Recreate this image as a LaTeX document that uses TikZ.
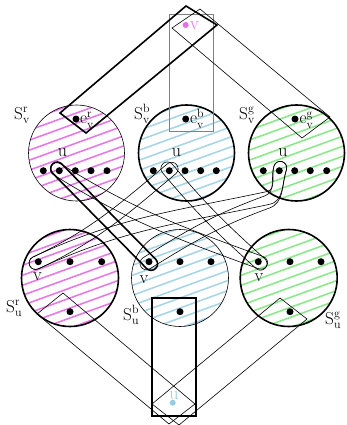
\documentclass[tikz,border=0pt]{standalone}
\usetikzlibrary{calc}
\definecolor{hr}{RGB}{232,122,232}
\definecolor{hb}{RGB}{168,214,230}
\definecolor{hg}{RGB}{140,232,140}
\definecolor{vcol}{RGB}{232,110,232}
\definecolor{ucol}{RGB}{150,205,228}
% sausage outline around P..Q
\newcommand\sausage[7]{%
  \pgfmathsetmacro\sA{#3}\pgfmathsetmacro\sB{#4}%
  \pgfmathsetmacro\sAl{#3+90}\pgfmathsetmacro\sAr{#3-90}\pgfmathsetmacro\sAb{#3+180}\pgfmathsetmacro\sAe{#3-270}%
  \pgfmathsetmacro\sBl{#4+90}\pgfmathsetmacro\sBr{#4-90}\pgfmathsetmacro\sBb{#4+180}%
  \coordinate (sP) at ($(#1)+(\sAb:#6)$);
  \coordinate (sQ) at ($(#2)+(\sB:#6)$);
  \draw[#7] ($(sP)+(\sAl:#5)$) to[out=\sA,in=\sBb] ($(sQ)+(\sBl:#5)$)
    arc[start angle=\sBl,end angle=\sBr,radius=#5]
    to[out=\sBb,in=\sA] ($(sP)+(\sAr:#5)$)
    arc[start angle=\sAr,end angle=\sAe,radius=#5] -- cycle;
}
% sausage with a middle waypoint
\newcommand\sausageM[9]{%
  \pgfmathsetmacro\sA{#4}\pgfmathsetmacro\sM{#5}\pgfmathsetmacro\sB{#6}%
  \pgfmathsetmacro\sAl{#4+90}\pgfmathsetmacro\sAr{#4-90}\pgfmathsetmacro\sAb{#4+180}\pgfmathsetmacro\sAe{#4-270}%
  \pgfmathsetmacro\sMl{#5+90}\pgfmathsetmacro\sMr{#5-90}\pgfmathsetmacro\sMb{#5+180}%
  \pgfmathsetmacro\sBl{#6+90}\pgfmathsetmacro\sBr{#6-90}\pgfmathsetmacro\sBb{#6+180}%
  \coordinate (sP) at ($(#1)+(\sAb:#8)$);
  \coordinate (sQ) at ($(#3)+(\sB:#8)$);
  \draw[#9] ($(sP)+(\sAl:#7)$) to[out=\sA,in=\sMb] ($(#2)+(\sMl:#7)$)
    to[out=\sM,in=\sBb] ($(sQ)+(\sBl:#7)$)
    arc[start angle=\sBl,end angle=\sBr,radius=#7]
    to[out=\sBb,in=\sM] ($(#2)+(\sMr:#7)$)
    to[out=\sMb,in=\sA] ($(sP)+(\sAr:#7)$)
    arc[start angle=\sAr,end angle=\sAe,radius=#7] -- cycle;
}
\newcommand\hatchcirc[3]{%
  \begin{scope}
    \clip (#1) circle[radius=#3];
    \foreach \k in {-8,...,8}
      \draw[#2, line width=1.6] ($(#1)+(-60,\k*10-21.8)$) -- ($(#1)+(60,\k*10+21.8)$);
  \end{scope}%
}
\begin{document}
\begin{tikzpicture}[x=1pt,y=1pt,
  thickline/.style={line width=1.6},
  thinline/.style={line width=0.6},
  dot/.style={circle,fill=black,inner sep=0,minimum size=7},
  lab/.style={inner sep=0,font=\fontsize{18}{21}\selectfont},
  sthick/.style={line width=1.6},
  sthin/.style={line width=0.6}]
\useasboundingbox (0,0) rectangle (346,-425);

% circle centres
\coordinate (CTL) at (76.5,-153);
\coordinate (CTM) at (186.5,-153);
\coordinate (CTR) at (296.5,-153);
\coordinate (CBL) at (70,-278);
\coordinate (CBM) at (180,-278);
\coordinate (CBR) at (288.7,-278);

% hatching
\hatchcirc{CTL}{hr}{48}
\hatchcirc{CTM}{hb}{48}
\hatchcirc{CTR}{hg}{48}
\hatchcirc{CBL}{hr}{48.5}
\hatchcirc{CBM}{hb}{48.5}
\hatchcirc{CBR}{hg}{48.5}

% circles
\draw[thinline] (CTL) circle[radius=48];
\draw[thickline] (CTM) circle[radius=48];
\draw[thickline] (CTR) circle[radius=48];
\draw[thickline] (CBL) circle[radius=48.5];
\draw[thinline] (CBM) circle[radius=48.5];
\draw[thickline] (CBR) circle[radius=48.5];

% rectangles
\draw[gray, line width=0.8] (169,-14) rectangle (213,-131);
\draw[thickline] (60,-113) -- (186,-6) -- (217,-25) -- (86,-133) -- cycle;
\draw[thinline] (172,-28) -- (200,-9) -- (330,-117) -- (302,-138) -- cycle;
\draw[thickline] (152,-298) rectangle (196,-416);
\draw[thinline] (63,-293) -- (37,-314) -- (169,-424) -- (195,-404) -- cycle;
\draw[thinline] (280,-298) -- (307,-319) -- (179,-425) -- (152,-404) -- cycle;

% dot coordinates used by sausages
\coordinate (TLu) at (59.3,-170.7);
\coordinate (TMu) at (169.3,-170.7);
\coordinate (TRu) at (279.3,-170.7);
\coordinate (BLv) at (38.3,-261.7);
\coordinate (BMv) at (149,-261.7);
\coordinate (BRv) at (258.3,-261.7);
\coordinate (M5) at (268,-198);
\coordinate (M6) at (267,-202);

% sausages
\sausage{TLu}{BMv}{-45.5}{-45.5}{6.5}{3}{sthick}
\sausage{TLu}{BRv}{-32}{-20}{6.5}{3}{sthin}
\sausage{TMu}{BLv}{220}{205}{6.5}{3}{sthin}
\sausage{TMu}{BRv}{-50}{-42}{6.5}{3}{sthin}
\sausageM{TRu}{M5}{BLv}{252}{192}{205}{6.5}{3}{sthin}
\sausageM{TRu}{M6}{BMv}{252}{200}{212}{6.5}{3}{sthin}

% dots, top row
\node[dot] (a1) at (43.3,-170.7) {};
\node[dot] (a2) at (TLu) {};
\node[dot] (a3) at (75.3,-170.7) {};
\node[dot] (a4) at (91,-170.7) {};
\node[dot] (a5) at (107,-170.7) {};
\node[dot] (b1) at (153.3,-170.7) {};
\node[dot] (b2) at (TMu) {};
\node[dot] (b3) at (185,-170.7) {};
\node[dot] (b4) at (200.7,-170.7) {};
\node[dot] (b5) at (216.3,-170.7) {};
\node[dot] (c1) at (263.3,-170.7) {};
\node[dot] (c2) at (TRu) {};
\node[dot] (c3) at (294.7,-170.7) {};
\node[dot] (c4) at (310.3,-170.7) {};
\node[dot] (c5) at (326.7,-170.7) {};
\node[dot] (er) at (76,-119) {};
\node[dot] (eb) at (185.7,-119) {};
\node[dot] (eg) at (295,-119) {};
% bottom row
\node[dot] (d1) at (BLv) {};
\node[dot] (d2) at (70,-261.7) {};
\node[dot] (d3) at (101.7,-261.7) {};
\node[dot] (d4) at (70,-311.7) {};
\node[dot] (f1) at (BMv) {};
\node[dot] (f2) at (180,-261.7) {};
\node[dot] (f3) at (211,-261.7) {};
\node[dot] (f4) at (180,-311.7) {};
\node[dot] (g1) at (BRv) {};
\node[dot] (g2) at (290,-261.7) {};
\node[dot] (g3) at (321,-261.7) {};
\node[dot] (g4) at (290,-311.7) {};
\node[dot, fill=vcol, minimum size=6] (tv) at (185.7,-25) {};
\node[dot, fill=ucol, minimum size=6] (bu) at (172.7,-402.7) {};

% labels
\node[lab, anchor=base west] (lSvr) at (14,-119) {$\mathrm{S}^{\mathrm{r}}_{\mathrm{v}}$};
\node[lab, anchor=base west] (lSvb) at (134,-119) {$\mathrm{S}^{\mathrm{b}}_{\mathrm{v}}$};
\node[lab, anchor=base west] (lSvg) at (239,-119) {$\mathrm{S}^{\mathrm{g}}_{\mathrm{v}}$};
\node[lab, anchor=base west] (lSur) at (6,-312) {$\mathrm{S}^{\mathrm{r}}_{\mathrm{u}}$};
\node[lab, anchor=base west] (lSub) at (123,-320) {$\mathrm{S}^{\mathrm{b}}_{\mathrm{u}}$};
\node[lab, anchor=base west] (lSug) at (325,-324) {$\mathrm{S}^{\mathrm{g}}_{\mathrm{u}}$};
\node[lab, anchor=base west] (ler) at (80,-124) {$\mathrm{e}^{\mathrm{r}}_{\mathrm{v}}$};
\node[lab, anchor=base west] (leb) at (190,-124) {$\mathrm{e}^{\mathrm{b}}_{\mathrm{v}}$};
\node[lab, anchor=base west] (leg) at (299.5,-124) {$\mathrm{e}^{\mathrm{g}}_{\mathrm{v}}$};
\node[lab, anchor=base] (lu1) at (62.5,-156) {u};
\node[lab, anchor=base] (lu2) at (176.5,-156) {u};
\node[lab, anchor=base] (lu3) at (283,-156) {u};
\node[lab, anchor=base] (lv1) at (37.5,-280) {v};
\node[lab, anchor=base] (lv2) at (144,-283) {v};
\node[lab, anchor=base] (lv3) at (259,-281) {v};
\node[lab, anchor=base west, text=vcol] (ltv) at (190,-30) {v};
\node[lab, anchor=base, text=ucol] (lbu) at (174,-399) {u};
\end{tikzpicture}
\end{document}
